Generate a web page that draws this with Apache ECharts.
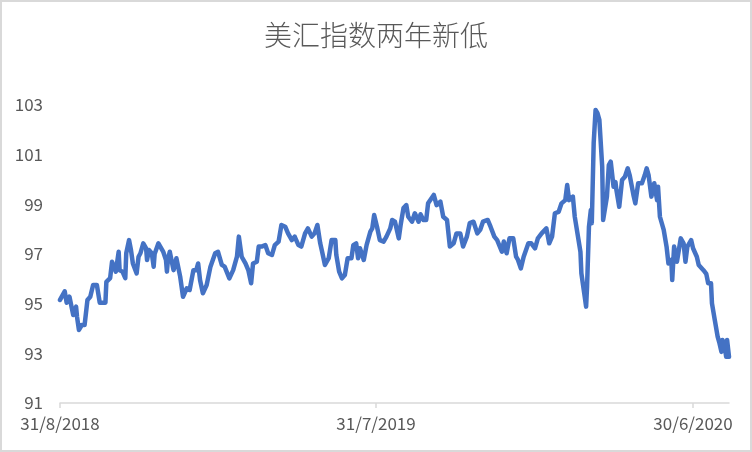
<!DOCTYPE html>
<html>
<head>
<meta charset="utf-8">
<script src="https://cdn.jsdelivr.net/npm/echarts@6/dist/echarts.min.js"></script>
<style>
html,body{margin:0;padding:0;background:#fff;}
#chart{width:752px;height:452px;}
</style>
</head>
<body>
<div id="chart"></div>
<script>
// Title and axis labels
var chartTitle = '美汇指数两年新低';
var startDate = [2018, 7, 31];           // 31/8/2018 (day 0)
var endDay = 707;                        // last day offset shown on the axis
var xTickDays = [0, 334, 669];           // 31/8/2018, 31/7/2019, 30/6/2020
var yMin = 91, yMax = 103, yStep = 2;

// Day offsets from 31/8/2018 and the index values
var days = [
  0, 5, 7, 10, 12, 14, 17, 18, 20, 23, 26, 29, 32, 35, 39, 42, 44, 48, 49, 53,
  55, 57, 59, 62, 63, 66, 69, 70, 73, 75, 77, 81, 83, 85, 88, 91, 92, 94, 97, 99,
  100, 104, 106, 109, 112, 113, 114,
  116, 120, 123, 127, 130, 134, 137, 141, 144, 146, 148, 151, 155, 159, 164, 167, 171, 174, 179, 183,
  187, 189, 192, 196, 199, 202, 204, 208, 210, 213, 217, 220, 224, 227, 231, 234, 238,
  241, 245, 248, 252, 255, 259, 262, 266, 269, 272, 275, 277, 280, 284, 287, 291, 292, 295, 298, 301,
  304, 308, 310, 313, 315, 317, 321, 324, 328, 330, 332, 335, 338, 342, 345, 349, 351, 354, 358, 360,
  363, 366, 368, 372, 375, 379, 381, 384, 387, 389, 395, 398, 402, 405, 409, 412, 416, 419, 423, 426,
  430, 433, 437, 441, 444, 447, 452, 455, 459, 462, 464, 467, 469, 472, 475,
  479, 482, 484, 487, 490, 492, 495, 498, 502, 505, 509, 514, 517, 520, 523, 527, 530, 534, 536, 538,
  542, 544, 548, 550, 551, 554, 556, 557, 559, 561, 562, 564, 566, 568, 570, 573, 574, 578, 580, 582, 585,
  587, 588, 591, 594, 597, 600, 602, 606, 608, 611, 615, 618, 620, 622, 625, 628, 631, 632, 634, 638,
  641, 643, 646, 647, 649, 652, 653, 656, 659, 661, 663, 667, 669, 673, 675, 677, 680, 683, 685, 688,
  689, 692, 695, 697, 699, 700, 702, 704, 705, 707
];
var dxy = [
  95.15, 95.50, 95.04, 95.28, 95.23, 94.54, 94.88, 94.47, 93.94, 94.14, 94.14, 95.15, 95.28, 95.75, 95.75, 95.04, 95.08, 95.04, 95.88, 96.03,
  96.69, 96.69, 96.29, 97.09, 96.35, 96.29, 96.03, 97.03, 97.56, 97.16, 96.62, 96.22, 96.89, 97.03, 97.43, 97.23, 96.76, 97.16, 97.03, 96.49,
  97.00, 97.43, 97.36, 97.10, 96.76, 96.29, 96.76,
  97.09, 96.35, 96.83, 96.09, 95.28, 95.62, 95.55, 96.35, 96.35, 96.62, 95.95, 95.42, 95.75, 96.49, 97.03, 97.09, 96.56, 96.49, 96.02, 96.35,
  96.89, 97.70, 96.89, 96.62, 96.35, 95.82, 96.62, 96.69, 97.30, 97.30, 97.36, 97.03, 96.96, 97.36, 97.50, 98.17, 98.10,
  97.83, 97.56, 97.70, 97.36, 97.30, 97.83, 98.03, 97.70, 97.83, 98.17, 97.43, 97.09, 96.56, 96.83, 97.56, 97.56, 96.96, 96.29, 96.02, 96.15,
  96.83, 96.83, 97.36, 97.43, 96.83, 97.23, 96.76, 97.36, 97.90, 98.03, 98.57, 98.10, 97.56, 97.50, 97.70, 98.03, 98.37, 98.30, 97.63, 98.17,
  98.85, 98.97, 98.50, 98.30, 98.64, 98.30, 98.60, 98.37, 98.37, 99.04, 99.38, 98.97, 99.11, 98.50, 98.37, 97.30, 97.43, 97.83, 97.83, 97.30,
  97.70, 98.24, 98.30, 97.83, 97.97, 98.30, 98.37, 98.10, 97.70, 97.56, 97.56, 97.09, 97.50, 97.03, 97.63,
  97.63, 96.89, 96.76, 96.42, 96.89, 96.85, 97.43, 97.43, 97.23, 97.63, 97.83, 98.03, 97.43, 97.70, 98.64, 98.70, 99.04, 99.17, 99.78, 99.17,
  99.31, 98.50, 97.56, 97.09, 96.22, 95.42, 94.88, 95.69, 98.10, 98.77, 98.24, 101.46, 102.80, 102.67, 102.40, 100.52, 98.37, 99.31, 100.58, 100.72, 99.71,
  99.90, 99.58, 98.90, 99.98, 100.11, 100.45, 100.18, 99.38, 99.04, 99.85, 99.85, 100.18, 100.45, 100.18, 99.31, 99.85, 99.17, 99.71, 98.50, 97.97,
  97.30, 96.62, 96.76, 95.95, 97.30, 96.69, 96.69, 97.63, 97.43, 96.69, 97.30, 97.56, 97.23, 96.89, 96.56, 96.60, 96.35, 96.20, 95.82, 95.82,
  95.01, 94.34, 93.67, 93.40, 93.06, 93.54, 93.40, 92.86, 93.54, 92.86
];

var DAY = 86400000;
var base = Date.UTC(startDate[0], startDate[1], startDate[2]);
var seriesData = days.map(function (d, i) { return [d, dxy[i]]; });
function dayLabel(d) {
  var dt = new Date(base + Math.round(d) * DAY);
  return dt.getUTCDate() + '/' + (dt.getUTCMonth() + 1) + '/' + dt.getUTCFullYear();
}

var labelFont = 'Noto Sans CJK SC';
var chart = echarts.init(document.getElementById('chart'), null, {renderer: 'canvas'});
chart.setOption({
  backgroundColor: '#ffffff',
  animation: false,
  title: {
    text: chartTitle,
    left: 'center',
    top: 21,
    padding: 0,
    textStyle: {
      fontFamily: labelFont,
      fontSize: 28,
      fontWeight: 300,
      color: '#595959'
    }
  },
  graphic: [{
    type: 'rect',
    shape: {x: 1, y: 1, width: 750, height: 450},
    style: {fill: 'none', stroke: '#d9d9d9', lineWidth: 2},
    silent: true,
    z: 100
  }],
  grid: {left: 60, right: 23, top: 105, bottom: 49, containLabel: false},
  xAxis: {
    type: 'value',
    min: 0,
    max: endDay,
    axisLine: {show: true, lineStyle: {color: '#d9d9d9', width: 1.5}},
    axisTick: {show: true, length: 5, lineStyle: {color: '#d9d9d9', width: 1.5}, customValues: xTickDays},
    splitLine: {show: false},
    axisLabel: {
      customValues: xTickDays,
      color: '#595959',
      fontFamily: labelFont,
      fontSize: 17,
      margin: 12,
      hideOverlap: false,
      formatter: function (v) { return dayLabel(v); }
    }
  },
  yAxis: {
    type: 'value',
    min: yMin,
    max: yMax,
    interval: yStep,
    axisLine: {show: false},
    axisTick: {show: false},
    splitLine: {show: false},
    axisLabel: {
      color: '#595959',
      fontFamily: labelFont,
      fontSize: 17,
      margin: 17
    }
  },
  series: [{
    type: 'line',
    data: seriesData,
    showSymbol: false,
    symbol: 'none',
    lineStyle: {color: '#4472C4', width: 4.5, join: 'round', cap: 'round'},
    itemStyle: {color: '#4472C4'}
  }]
});
</script>
</body>
</html>
